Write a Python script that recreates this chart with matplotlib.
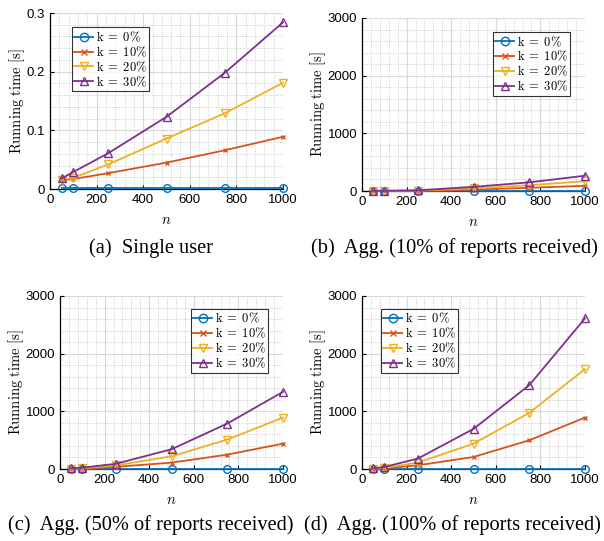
import matplotlib
matplotlib.use("Agg")
import matplotlib.pyplot as plt
from matplotlib.ticker import MultipleLocator

plt.rcParams['mathtext.fontset'] = 'cm'
plt.rcParams['font.family'] = ['Liberation Sans', 'DejaVu Sans']

# number of users
n = [50, 100, 250, 500, 750, 1000]
k_labels = ['0', '10', '20', '30']

# (a) single user [s]
single_k0 = [0.001, 0.001, 0.001, 0.001, 0.001, 0.001]
single_k10 = [0.015, 0.017, 0.027, 0.045, 0.066, 0.089]
single_k20 = [0.016, 0.019, 0.042, 0.086, 0.129, 0.181]
single_k30 = [0.018, 0.029, 0.061, 0.123, 0.198, 0.284]

# (b) aggregation, 10% of reports received [s]
agg10_k0 = [0, 0, 0, 0, 0, 0]
agg10_k10 = [1, 2, 5, 25, 55, 90]
agg10_k20 = [1, 2, 8, 45, 100, 170]
agg10_k30 = [2, 3, 12, 72, 150, 265]

# (c) aggregation, 50% of reports received [s]
agg50_k0 = [0, 0, 0, 0, 0, 0]
agg50_k10 = [3, 6, 38, 110, 249, 440]
agg50_k20 = [6, 12, 62, 220, 510, 892]
agg50_k30 = [12, 23, 90, 342, 788, 1338]

# (d) aggregation, 100% of reports received [s]
agg100_k0 = [0, 0, 0, 0, 0, 0]
agg100_k10 = [5, 10, 64, 208, 498, 892]
agg100_k20 = [8, 20, 110, 440, 973, 1732]
agg100_k30 = [12, 35, 180, 695, 1454, 2612]

colors = ['#0072BD', '#D95319', '#EDB120', '#7E2F8E']
markers = ['o', 'x', 'v', '^']

W, H = 604, 541
# data, caption, axes rect (px: left, top, right, bottom), ymax, major, minor, legend pos, caption (x, baseline) px
panels = [
    ([single_k0, single_k10, single_k20, single_k30], '(a)  Single user',
     (50, 13, 283, 189), 0.3, 0.1, 0.02, (0.094, 0.92), (151, 253)),
    ([agg10_k0, agg10_k10, agg10_k20, agg10_k30], '(b)  Agg. (10% of reports received)',
     (362, 18, 585, 191), 3000, 1000, 200, (0.587, 0.919), (454, 253)),
    ([agg50_k0, agg50_k10, agg50_k20, agg50_k30], '(c)  Agg. (50% of reports received)',
     (60, 296, 283, 469), 3000, 1000, 200, (0.587, 0.925), (151, 530)),
    ([agg100_k0, agg100_k10, agg100_k20, agg100_k30], '(d)  Agg. (100% of reports received)',
     (362, 296, 585, 469), 3000, 1000, 200, (0.085, 0.925), (452, 530)),
]

fig = plt.figure(figsize=(6.04, 5.41), dpi=100)

for series, caption, box, ymax, ymaj, ymin, legpos, cap in panels:
    l, t, r, b = box
    ax = fig.add_axes([l / W, 1 - b / H, (r - l) / W, (b - t) / H])
    for vals, k, c, m in zip(series, k_labels, colors, markers):
        ax.plot(n, vals, color=c, marker=m, markersize=5.5 if m != 'x' else 3.5,
                markerfacecolor='none', markeredgewidth=1.0, linewidth=1.3,
                label=r'$\mathrm{k}\;=\;' + k + r'\%$', clip_on=False, zorder=3)
    ax.set_xlim(0, 1000)
    ax.set_ylim(0, ymax)
    ax.xaxis.set_major_locator(MultipleLocator(200))
    ax.xaxis.set_minor_locator(MultipleLocator(40))
    ax.yaxis.set_major_locator(MultipleLocator(ymaj))
    ax.yaxis.set_minor_locator(MultipleLocator(ymin))
    if ymax < 1:
        ax.set_yticks([0, 0.1, 0.2, 0.3])
        ax.set_yticklabels(['0', '0.1', '0.2', '0.3'])
    ax.grid(which='major', color='#d9d9d9', linewidth=0.8, linestyle='-')
    ax.grid(which='minor', color='#bfbfbf', linewidth=0.6, linestyle=':')
    ax.set_axisbelow(True)
    ax.spines['top'].set_visible(False)
    ax.spines['right'].set_visible(False)
    ax.spines['left'].set_linewidth(0.9)
    ax.spines['bottom'].set_linewidth(0.9)
    ax.tick_params(which='both', direction='in', labelsize=9.5, length=3)
    ax.tick_params(which='minor', length=0)
    ax.set_xlabel(r'$n$', fontsize=10.5, labelpad=5)
    ax.set_ylabel(r'$\mathrm{Running\ time\ [s]}$', fontsize=10.5, labelpad=0)
    leg = ax.legend(loc='upper left', bbox_to_anchor=legpos, fontsize=9,
                    frameon=True, fancybox=False, edgecolor='black',
                    handlelength=1.5, handletextpad=0.2, borderpad=0.2,
                    labelspacing=0.05, borderaxespad=0, markerscale=1.1)
    leg.get_frame().set_linewidth(0.8)
    # caption under each panel
    fig.text(cap[0] / W, 1 - cap[1] / H, caption, ha='center', va='baseline',
             fontsize=14.7, family='Liberation Serif')

fig.savefig('out.png', dpi=100)
